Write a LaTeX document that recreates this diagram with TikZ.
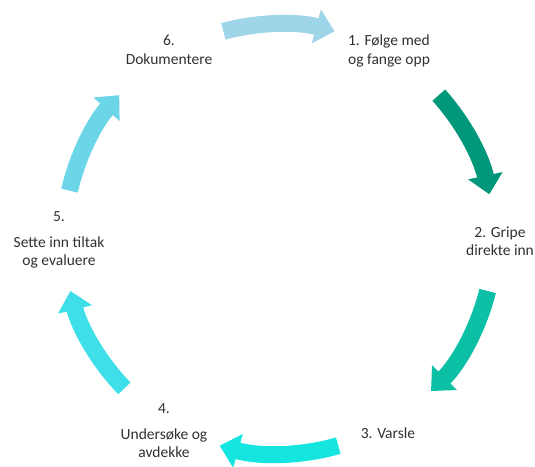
\documentclass[tikz,border=0pt]{standalone}
\usepackage{fontspec}
\setmainfont{Carlito}
\usetikzlibrary{arrows.meta}
\definecolor{cTop}{HTML}{9ED5E8}
\definecolor{cGreen}{HTML}{00977A}
\definecolor{cTeal}{HTML}{0CC0A6}
\definecolor{cBottom}{HTML}{14E5DF}
\definecolor{cLeftB}{HTML}{3EDFE9}
\definecolor{cLeftT}{HTML}{6DD5E8}
\definecolor{txt}{HTML}{303030}
\tikzset{
  cyclearrow/.style={line width=17pt, line cap=butt,
    -{Triangle[width=34pt,length=19pt]}},
  lbl/.style={align=center, text=txt, inner sep=0pt,
    font=\fontsize{15.5}{18.5}\selectfont}
}
\begin{document}
\begin{tikzpicture}[x=1pt,y=1pt]
\useasboundingbox (0,0) rectangle (535,466);
\clip (0,0) rectangle (535,466);
\coordinate (c) at (279,227);
\def\R{215}
% labels
\node[lbl] (n1) at (389,415) {1. Følge med\\og fange opp};
\node[lbl] (n2) at (500,225) {2. Gripe\\direkte inn};
\node[lbl] (n3) at (388,33) {3. Varsle};
\node[lbl] (n4) at (164,35) {4.\\[7pt]Undersøke og\\avdekke};
\node[lbl] (n5) at (59,226) {5.\\[7pt]Sette inn tiltak\\og evaluere};
\node[lbl] (n6) at (169,416) {6.\\Dokumentere};
% arrows
\draw[cyclearrow, draw=cTop, fill=cTop] (c) ++(105:\R) arc[start angle=105, end angle=75, radius=\R];
\draw[cyclearrow, draw=cGreen, fill=cGreen] (c) ++(42:\R) arc[start angle=42, end angle=12, radius=\R];
\draw[cyclearrow, draw=cTeal, fill=cTeal] (c) ++(-14:\R) arc[start angle=-14, end angle=-45, radius=\R];
\draw[cyclearrow, draw=cBottom, fill=cBottom] (c) ++(-74:\R) arc[start angle=-74, end angle=-106, radius=\R];
\draw[cyclearrow, draw=cLeftB, fill=cLeftB] (c) ++(-136:\R) arc[start angle=-136, end angle=-166, radius=\R];
\draw[cyclearrow, draw=cLeftT, fill=cLeftT] (c) ++(167:\R) arc[start angle=167, end angle=138, radius=\R];
\end{tikzpicture}
\end{document}
